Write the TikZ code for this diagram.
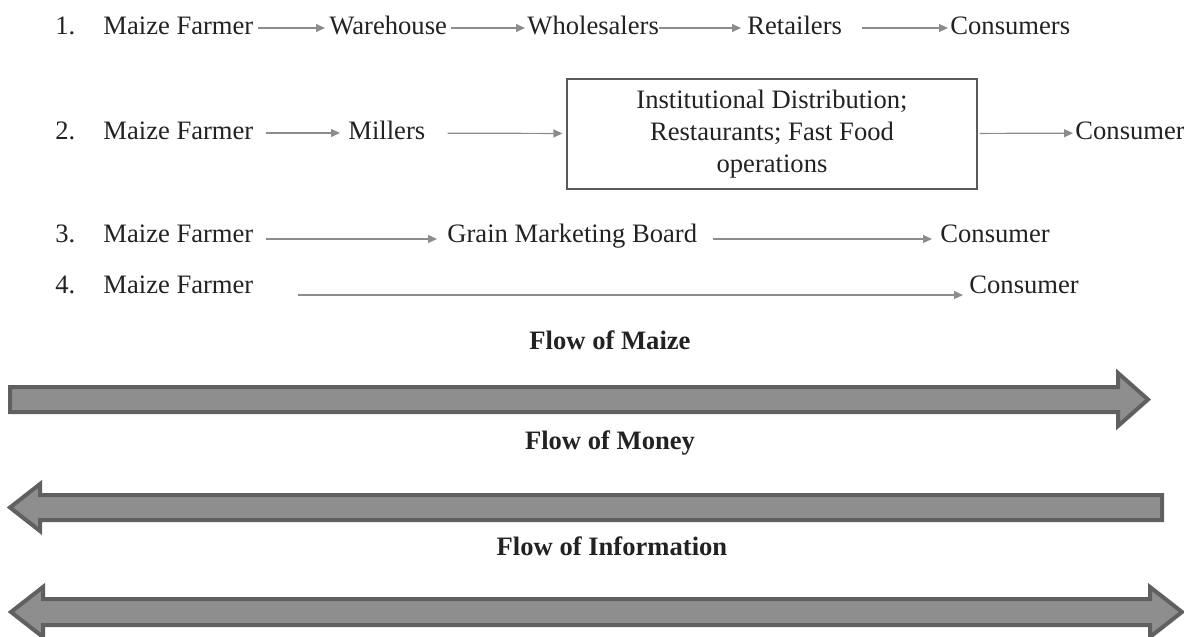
\documentclass[tikz,border=0pt]{standalone}
\usepackage{fontspec}
\setmainfont{Liberation Serif}
\usetikzlibrary{arrows.meta}
\definecolor{txtgray}{RGB}{34,34,34}
\definecolor{linegray}{RGB}{140,140,140}
\definecolor{boxgray}{RGB}{90,90,90}
\definecolor{barfill}{RGB}{142,142,142}
\definecolor{bardraw}{RGB}{96,96,96}
\tikzset{
  item/.style={anchor=west, inner sep=0pt, text=txtgray, text height=9pt, text depth=2.5pt},
  flowline/.style={draw=linegray, line width=0.6pt, -{Triangle[length=4.5pt,width=4pt]}},
  bigarrow/.style={draw=bardraw, fill=barfill, line width=2pt, line join=miter},
  flowtitle/.style={font=\bfseries, text=txtgray, inner sep=0pt}
}
\begin{document}
\begin{tikzpicture}[x=0.5pt, y=-0.5pt]
			\fontsize{13.3}{16}\selectfont
			\useasboundingbox (0, 0) rectangle (1184, 637);
			
			%%%%% CHANNEL 1 %%%%%
			\node[item] (n1) at (55, 28) {1.};
			\node[item] (f1) at (103, 28) {Maize Farmer};
			\node[item] (w1) at (329, 28) {Warehouse};
			\node[item] (s1) at (527, 28) {Wholesalers};
			\node[item] (r1) at (747, 28) {Retailers};
			\node[item] (c1) at (950, 28) {Consumers};
			\draw[flowline, shorten <=2pt, shorten >=2pt] (f1) -- (w1);
			\draw[flowline, shorten <=2pt, shorten >=1pt] (w1) -- (s1);
			\draw[flowline, shorten >=3pt] (s1) -- (r1);
			\draw[flowline, shorten <=10pt, shorten >=1pt] (r1) -- (c1);
			
			%%%%% CHANNEL 2 %%%%%
			\node[item] (n2) at (55, 133) {2.};
			\node[item] (f2) at (103, 133) {Maize Farmer};
			\node[item] (m2) at (348, 133) {Millers};
			\node[draw=boxgray, line width=0.6pt, minimum width=205pt, minimum height=55pt, align=center, text=txtgray] (inst) at (772, 134) {Institutional Distribution;\\ Restaurants; Fast Food\\ operations};
			\node[item] (c2) at (1075, 133) {Consumer};
			\draw[flowline, shorten <=6pt, shorten >=4pt] (f2) -- (m2);
			\draw[flowline, shorten <=11pt, shorten >=2pt] (m2) -- (inst);
			\draw[flowline, shorten <=1pt, shorten >=1pt] (inst) -- (c2);
			
			%%%%% CHANNEL 3 %%%%%
			\node[item] (n3) at (55, 236) {3.};
			\node[item] (f3) at (103, 236) {Maize Farmer};
			\node[item] (g3) at (447, 236) {Grain Marketing Board};
			\node[item] (c3) at (940, 236) {Consumer};
			\draw[flowline, shorten <=6pt, shorten >=5pt] ([yshift=-1.5pt]f3.east) -- ([yshift=-1.5pt]g3.west);
			\draw[flowline, shorten <=8pt, shorten >=4pt] ([yshift=-1.5pt]g3.east) -- ([yshift=-1.5pt]c3.west);
			
			%%%%% CHANNEL 4 %%%%%
			\node[item] (n4) at (55, 287) {4.};
			\node[item] (f4) at (103, 287) {Maize Farmer};
			\node[item] (c4) at (969, 287) {Consumer};
			\draw[flowline, shorten <=22pt, shorten >=3pt] ([yshift=-4pt]f4.east) -- ([yshift=-4pt]c4.west);
			
			%%%%% FLOWS %%%%%
			\node[flowtitle] (maize) at (610, 340) {Flow of Maize};
			\draw[bigarrow] (10, 387) -- (1118, 387) -- (1118, 373) -- (1148, 399.5) -- (1118, 426) -- (1118, 412) -- (10, 412) -- cycle;
			
			\node[flowtitle] (money) at (610, 443) {Flow of Money};
			\draw[bigarrow] (1162, 495) -- (40, 495) -- (40, 484) -- (10, 507.5) -- (40, 531) -- (40, 520) -- (1162, 520) -- cycle;
			
			\node[flowtitle] (info) at (612, 546) {Flow of Information};
			\draw[bigarrow] (11, 612) -- (43, 587) -- (43, 599) -- (1150, 599) -- (1150, 587) -- (1182, 612) -- (1150, 637) -- (1150, 625) -- (43, 625) -- (43, 637) -- cycle;
		\end{tikzpicture}
\end{document}
